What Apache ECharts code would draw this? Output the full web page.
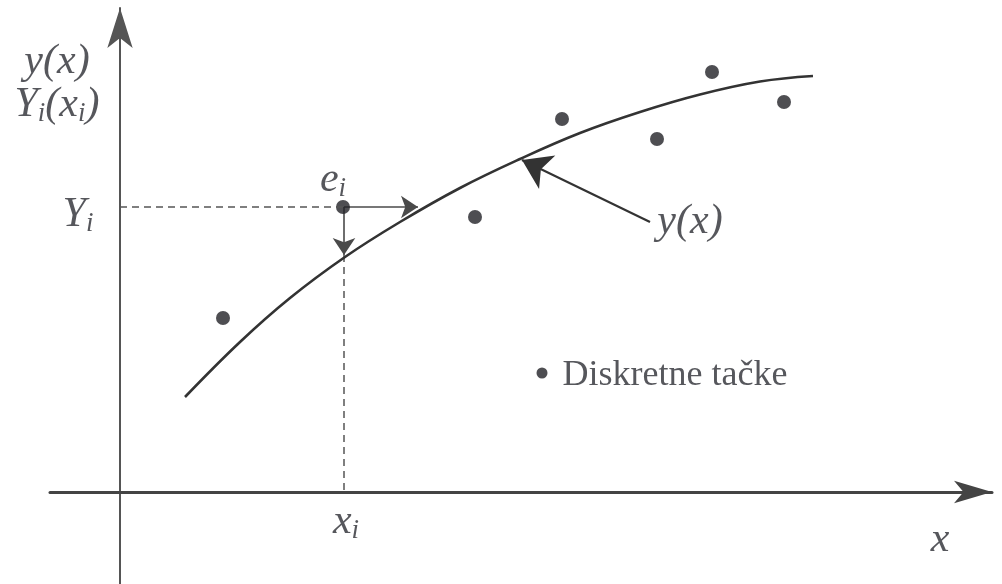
<!DOCTYPE html>
<html>
<head>
<meta charset="utf-8">
<script src="https://cdn.jsdelivr.net/npm/echarts@6/dist/echarts.min.js"></script>
<style>
html,body{margin:0;padding:0;background:#fff;}
#c{width:1002px;height:584px;}
</style>
</head>
<body>
<div id="c"></div>
<script>
// Fitted curve y(x) (abstract units)
var curveX = [0.65, 1.20, 1.70, 2.25, 2.80, 3.40, 4.00, 4.60, 5.20, 5.80, 6.40, 6.93];
var curveY = [0.95, 1.50, 1.94, 2.35, 2.70, 3.04, 3.33, 3.59, 3.80, 3.975, 4.105, 4.16];
// Discrete points
var pointX = [1.03, 2.23, 3.55, 4.42, 5.37, 5.92, 6.64];
var pointY = [1.74, 2.85, 2.75, 3.73, 3.53, 4.20, 3.90];
// the highlighted point (x_i, Y_i) and the curve value at x_i
var xi = 2.24, Yi = 2.85, yAtXi = 2.37, hArrowEnd = 2.98;
// pointer arrow to the curve
var pointerFrom = [5.30, 2.70], pointerTo = [4.02, 3.32];
// legend dot
var legendDot = [4.22, 1.19];
// labels: [x, y, text]
var labelX = [-0.63, -0.63, -0.42, 2.13, 2.26, 8.20, 5.70];
var labelY = [4.30, 3.87, 2.77, 3.12, -0.30, -0.48, 2.70];
var labelText = [
  '{m|y(x)}',
  '{m|Y}{s|i}{m|(x}{s|i}{m|)}',
  '{m|Y}{s|i}',
  '{m|e}{s|i}',
  '{m|x}{s|i}',
  '{m|x}',
  '{m|y(x)}'
];
var legendText = 'Diskretne tačke';

var serif = 'Liberation Serif';
var ink = '#2c2d33';

var chart = echarts.init(document.getElementById('c'));
var curveData = curveX.map(function(x, i){ return [x, curveY[i]]; });
var pointData = pointX.map(function(x, i){ return [x, pointY[i]]; });
var labelData = labelX.map(function(x, i){ return {value:[x, labelY[i]], label:{formatter: labelText[i]}}; });

var rich = {
  m: {fontFamily: serif, fontStyle: 'italic', fontSize: 42, color: ink, lineHeight: 44, verticalAlign: 'middle'},
  s: {fontFamily: serif, fontStyle: 'italic', fontSize: 27, color: ink, lineHeight: 20, verticalAlign: 'bottom'}
};

chart.setOption({
  animation: false,
  backgroundColor: '#ffffff',
  textStyle: {fontFamily: serif},
  grid: {left: 50, right: 10, top: 8, bottom: 0, containLabel: false},
  xAxis: {
    type: 'value', min: -0.70, max: 8.72,
    axisLine: {onZero: true, lineStyle: {color: '#444', width: 3}, symbol: ['none', 'arrow'], symbolSize: [17, 38], symbolOffset: [0, 0]},
    axisTick: {show: false}, axisLabel: {show: false}, splitLine: {show: false}
  },
  yAxis: {
    type: 'value', min: -0.92, max: 4.84,
    axisLine: {onZero: true, lineStyle: {color: '#555', width: 2}, symbol: ['none', 'arrow'], symbolSize: [19, 40], symbolOffset: [0, 0]},
    axisTick: {show: false}, axisLabel: {show: false}, splitLine: {show: false}
  },
  series: [
    {
      type: 'line', name: 'dashH', data: [[0, Yi], [xi, Yi]], symbol: 'none', silent: true,
      lineStyle: {color: '#555', width: 1.5, type: [7, 5]}
    },
    {
      type: 'line', name: 'dashV', data: [[xi, yAtXi], [xi, 0]], symbol: 'none', silent: true,
      lineStyle: {color: '#555', width: 1.5, type: [7, 5]}
    },
    {
      type: 'line', name: 'y(x)', data: curveData, smooth: 0.4, symbol: 'none',
      lineStyle: {color: '#333', width: 2.6}
    },
    {
      type: 'lines', coordinateSystem: 'cartesian2d', silent: true,
      symbol: ['none', 'arrow'], symbolSize: [10, 17],
      lineStyle: {color: '#4a4a4a', width: 1.6, opacity: 1},
      data: [
        {coords: [[xi, Yi], [hArrowEnd, Yi]]},
        {coords: [[xi, Yi], [xi, yAtXi]]}
      ]
    },
    {
      type: 'lines', coordinateSystem: 'cartesian2d', silent: true,
      symbol: ['none', 'arrow'], symbolSize: [15, 28],
      lineStyle: {color: '#333', width: 2.2, opacity: 1},
      data: [{coords: [pointerFrom, pointerTo]}]
    },
    {
      type: 'scatter', name: 'Diskretne tačke', data: pointData, symbolSize: 14,
      itemStyle: {color: '#222227'}
    },
    {
      type: 'scatter', name: 'legend', data: [legendDot], symbolSize: 11,
      itemStyle: {color: '#222227'},
      label: {show: true, position: 'right', distance: 15, offset: [0, 3], formatter: legendText,
        fontFamily: serif, fontSize: 36, color: ink}
    },
    {
      type: 'scatter', name: 'labels', data: labelData, symbolSize: 0, clip: false, silent: true,
      label: {show: true, position: 'inside', rich: rich}
    }
  ]
});
</script>
</body>
</html>
